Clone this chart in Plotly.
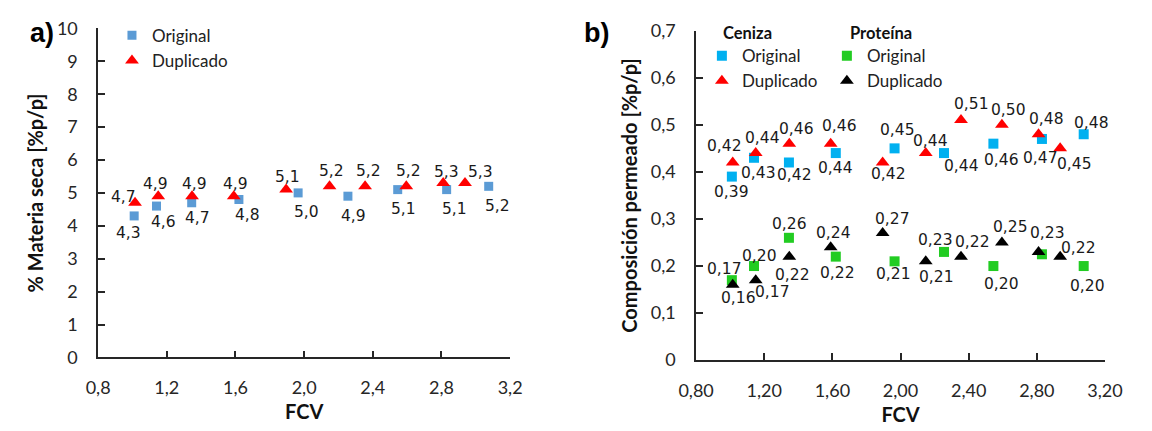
import plotly.graph_objects as go

# FCV values (x) for the original and duplicate runs
fcv_orig = [1.01, 1.14, 1.345, 1.62, 1.965, 2.255, 2.545, 2.83, 3.075]
fcv_dup = [1.015, 1.15, 1.347, 1.59, 1.895, 2.148, 2.355, 2.595, 2.81, 2.937]

# a) dry matter, % w/w
ms_orig = [4.3, 4.6, 4.7, 4.8, 5.0, 4.9, 5.1, 5.1, 5.2]
ms_dup = [4.7, 4.9, 4.9, 4.9, 5.1, 5.2, 5.2, 5.2, 5.3, 5.3]

# b) permeate composition, % w/w
ash_orig = [0.39, 0.43, 0.42, 0.44, 0.45, 0.44, 0.46, 0.47, 0.48]
ash_dup = [0.42, 0.44, 0.46, 0.46, 0.42, 0.44, 0.51, 0.50, 0.48, 0.45]
prot_orig = [0.17, 0.20, 0.26, 0.22, 0.21, 0.23, 0.20, 0.225, 0.20]
prot_dup = [0.16, 0.17, 0.22, 0.24, 0.27, 0.21, 0.22, 0.25, 0.23, 0.22]
prot_orig_shown = [True, True, True, True, True, True, True, False, True]

x_ticks = [0.8, 1.2, 1.6, 2.0, 2.4, 2.8, 3.2]

# data-label offsets in pixels (dx right, dy down) so labels don't collide
ms_orig_off = [(-6, 17), (7, 16), (6, 15), (9, 16), (8, 19), (6, 20), (6, 19), (8, 19), (9, 20)]
ms_dup_off = [(-12, -6), (-3, -12), (2, -12), (2, -12), (1, -13), (2, -15), (3, -15),
              (2, -15), (3, -11), (15, -11)]
ash_orig_off = [(0, 15), (4, 15), (6, 13), (0, 15), (3, -18), (18, 13), (8, 16),
                (-1, 19), (8, -11)]
ash_dup_off = [(-8, -16), (7, -15), (7, -15), (9, -18), (6, 12), (5, -12), (10, -16),
               (7, -15), (8, -15), (14, 16)]
prot_orig_off = [(-7, -11), (5, -10), (1, -14), (2, 16), (-1, 13), (-8, -12), (8, 18),
                 (0, -14), (4, 20)]
prot_dup_off = [(6, 13), (17, 12), (3, 18), (3, -14), (10, -14), (11, 16), (11, -15),
                (9, -16), (9, -19), (18, -9)]

LABEL_FONT = dict(family="DejaVu Sans", size=15.5, color="#1a1a1a")
TICK_FONT = dict(family="Lato", size=18, color="#262626")
TITLE_FONT = dict(family="Lato", size=20, color="#111111")
LEG_FONT = dict(family="Lato", size=17, color="#222222")

C_BLUE_A = "#5B9BD5"
C_RED = "#FF0000"
C_CYAN = "#00B0F0"
C_GREEN = "#22CC22"
C_BLACK = "#000000"


def fmt(v, nd):
    return f"{v:.{nd}f}".replace(".", ",")


def label_annotations(xs, ys, nd, offsets, xref, yref, shown=None):
    out = []
    for i, (x, y) in enumerate(zip(xs, ys)):
        if shown is not None and not shown[i]:
            continue
        dx, dy = offsets[i]
        out.append(dict(x=x, y=y, xref=xref, yref=yref, text=fmt(y, nd),
                        showarrow=False, xshift=dx, yshift=-dy,
                        xanchor="center", yanchor="middle", font=LABEL_FONT))
    return out


fig = go.Figure()

# ---------- panel a ----------
fig.add_trace(go.Scatter(
    x=fcv_orig, y=ms_orig, mode="markers", name="Original",
    marker=dict(symbol="square", size=9, color=C_BLUE_A),
    xaxis="x", yaxis="y", legend="legend", cliponaxis=False,
))
fig.add_trace(go.Scatter(
    x=fcv_dup, y=ms_dup, mode="markers", name="Duplicado",
    marker=dict(symbol="triangle-up", size=12, color=C_RED),
    xaxis="x", yaxis="y", legend="legend", cliponaxis=False,
))

# ---------- panel b ----------
fig.add_trace(go.Scatter(
    x=fcv_orig, y=ash_orig, mode="markers", name="Original",
    marker=dict(symbol="square", size=10, color=C_CYAN),
    xaxis="x2", yaxis="y2", legend="legend2", cliponaxis=False,
))
fig.add_trace(go.Scatter(
    x=fcv_dup, y=ash_dup, mode="markers", name="Duplicado",
    marker=dict(symbol="triangle-up", size=12, color=C_RED),
    xaxis="x2", yaxis="y2", legend="legend2", cliponaxis=False,
))
fig.add_trace(go.Scatter(
    x=fcv_orig, y=prot_orig, mode="markers", name="Original",
    marker=dict(symbol="square", size=10, color=C_GREEN),
    xaxis="x2", yaxis="y2", legend="legend3", cliponaxis=False,
))
fig.add_trace(go.Scatter(
    x=fcv_dup, y=prot_dup, mode="markers", name="Duplicado",
    marker=dict(symbol="triangle-up", size=12, color=C_BLACK),
    xaxis="x2", yaxis="y2", legend="legend3", cliponaxis=False,
))

annotations = []
annotations += label_annotations(fcv_orig, ms_orig, 1, ms_orig_off, "x", "y")
annotations += label_annotations(fcv_dup, ms_dup, 1, ms_dup_off, "x", "y")
annotations += label_annotations(fcv_orig, ash_orig, 2, ash_orig_off, "x2", "y2")
annotations += label_annotations(fcv_dup, ash_dup, 2, ash_dup_off, "x2", "y2")
annotations += label_annotations(fcv_orig, prot_orig, 2, prot_orig_off, "x2", "y2",
                                 prot_orig_shown)
annotations += label_annotations(fcv_dup, prot_dup, 2, prot_dup_off, "x2", "y2")

# panel letters and legend group headings
annotations += [
    dict(text="<b>a)</b>", x=0.009, y=0.948, xref="paper", yref="paper",
         xanchor="left", yanchor="middle", showarrow=False,
         font=dict(family="Liberation Sans", size=27, color="#000000")),
    dict(text="<b>b)</b>", x=0.505, y=0.948, xref="paper", yref="paper",
         xanchor="left", yanchor="middle", showarrow=False,
         font=dict(family="Liberation Sans", size=27, color="#000000")),
    dict(text="<b>Ceniza</b>", x=0.631, y=0.949, xref="paper", yref="paper",
         xanchor="left", yanchor="middle", showarrow=False, borderpad=0,
         font=dict(family="Lato", size=16.5, color="#111111")),
    dict(text="<b>Proteína</b>", x=0.7445, y=0.949, xref="paper", yref="paper",
         xanchor="left", yanchor="middle", showarrow=False, borderpad=0,
         font=dict(family="Lato", size=16.5, color="#111111")),
]

axis_common = dict(
    showline=True, linecolor="#262626", linewidth=1.5,
    ticks="inside", ticklen=7, tickwidth=1.5, tickcolor="#262626",
    showgrid=False, zeroline=False, tickfont=TICK_FONT, mirror=False,
)
x_common = dict(axis_common, ticklabelstandoff=13)
y_common = dict(axis_common, ticklabelstandoff=15)

legend_common = dict(
    bgcolor="rgba(0,0,0,0)", borderwidth=0, xanchor="left", yanchor="top",
    itemclick=False, itemdoubleclick=False, tracegroupgap=0, font=LEG_FONT,
)

fig.update_layout(
    width=1152, height=431,
    margin=dict(l=0, r=0, t=0, b=0),
    paper_bgcolor="white", plot_bgcolor="white",
    separators=",.",
    xaxis=dict(domain=[0.0718, 0.441], range=[0.8, 3.2], tickvals=x_ticks,
               tickformat=".1f", anchor="y",
               title=dict(text="<b>FCV</b>", font=TITLE_FONT, standoff=8),
               **x_common),
    yaxis=dict(domain=[0.1555, 0.9599], range=[0, 10], dtick=1, anchor="x",
               title=dict(text="<b>% Materia seca [%p/p]</b>", font=TITLE_FONT,
                          standoff=8),
               **y_common),
    xaxis2=dict(domain=[0.6076, 0.974], range=[0.8, 3.2], tickvals=x_ticks,
                tickformat=".2f", anchor="y2",
                title=dict(text="<b>FCV</b>", font=TITLE_FONT, standoff=8),
                **x_common),
    yaxis2=dict(domain=[0.1487, 0.9543], range=[0, 0.7], dtick=0.1, anchor="x2",
                title=dict(text="<b>Composición permeado [%p/p]</b>",
                           font=TITLE_FONT, standoff=8),
                **y_common),
    legend=dict(x=0.0842, y=0.986, **legend_common),
    legend2=dict(x=0.6128, y=0.936, **legend_common),
    legend3=dict(x=0.7248, y=0.936, **legend_common),
    annotations=annotations,
)

fig.write_html("out.html")
